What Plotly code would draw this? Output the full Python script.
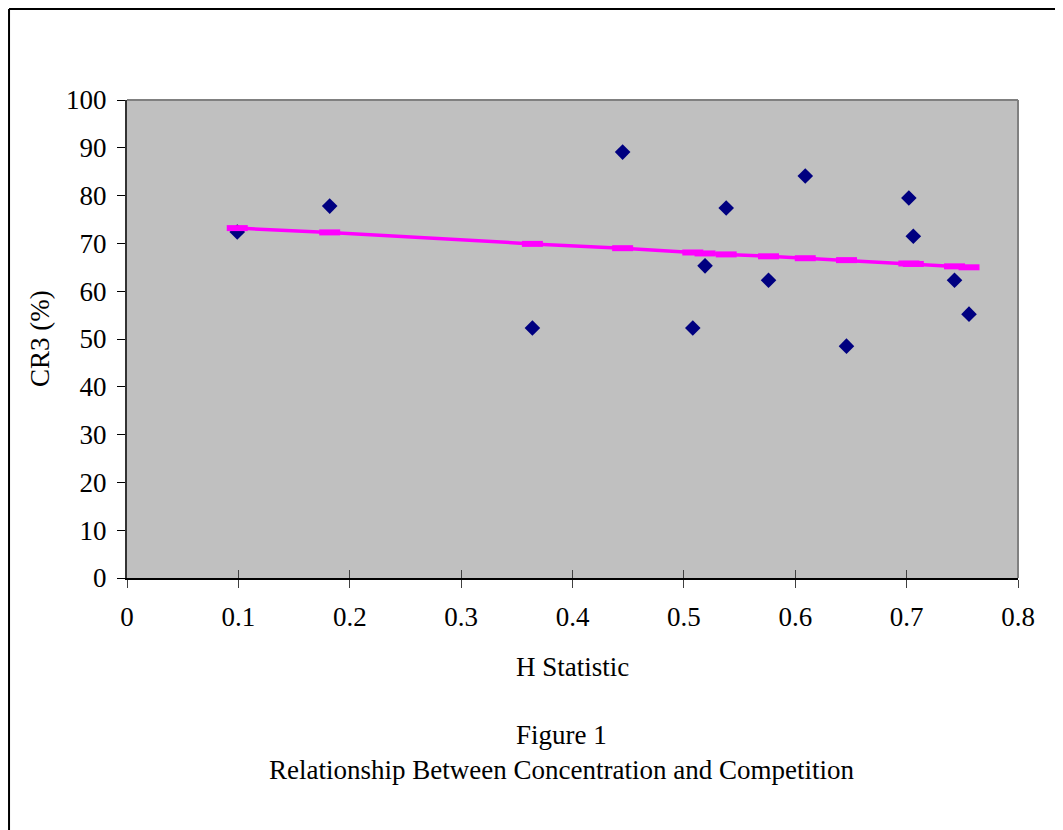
import plotly.graph_objects as go

# Observed data (H statistic vs CR3 %)
h_stat = [0.099, 0.182, 0.364, 0.445, 0.508, 0.519, 0.538, 0.576, 0.609, 0.646, 0.702, 0.706, 0.743, 0.756]
cr3 = [72.4, 77.8, 52.3, 89.1, 52.3, 65.3, 77.4, 62.3, 84.1, 48.5, 79.5, 71.5, 62.3, 55.2]

# Fitted (trend) series as drawn in the chart
fit_x = [0.099, 0.182, 0.364, 0.445, 0.508, 0.519, 0.538, 0.576, 0.609, 0.646, 0.702, 0.706, 0.743, 0.756]
fit_y = [73.2, 72.3, 69.9, 69.0, 68.1, 67.9, 67.7, 67.3, 66.9, 66.5, 65.8, 65.7, 65.2, 65.0]

x_ticks = [0, 0.1, 0.2, 0.3, 0.4, 0.5, 0.6, 0.7, 0.8]
x_tick_labels = ["0", "0.1", "0.2", "0.3", "0.4", "0.5", "0.6", "0.7", "0.8"]
y_ticks = [0, 10, 20, 30, 40, 50, 60, 70, 80, 90, 100]

FONT = "Liberation Serif, Times New Roman, serif"
FS = 27

fig = go.Figure()
fig.add_trace(go.Scatter(
    x=h_stat, y=cr3, mode="markers",
    marker=dict(symbol="diamond", size=12, color="#000080", line=dict(width=0)),
    showlegend=False, cliponaxis=False,
))
fig.add_trace(go.Scatter(
    x=fit_x, y=fit_y, mode="lines+markers",
    line=dict(color="#FF00FF", width=3.5),
    marker=dict(symbol="line-ew", size=15, color="#FF00FF", line=dict(color="#FF00FF", width=6)),
    showlegend=False,
))
# invisible trace for inner x tick marks
fig.add_trace(go.Scatter(x=[0], y=[0], xaxis="x2", mode="markers",
                         marker=dict(opacity=0), showlegend=False, hoverinfo="skip"))

fig.update_layout(
    width=1063, height=830,
    margin=dict(l=119, r=53, t=92, b=260),
    paper_bgcolor="white",
    plot_bgcolor="#C0C0C0",
    font=dict(family=FONT, size=FS, color="black"),
    xaxis=dict(
        range=[0, 0.8], tickvals=x_ticks, ticktext=x_tick_labels,
        showgrid=False, zeroline=False,
        showline=True, linecolor="black", linewidth=2,
        ticks="outside", ticklen=8, tickwidth=1, tickcolor="#404040",
        ticklabelstandoff=6,
        tickfont=dict(family=FONT, size=FS),
    ),
    xaxis2=dict(
        range=[0, 0.8], tickvals=x_ticks, overlaying="x", anchor="y",
        showgrid=False, zeroline=False, showline=False,
        ticks="inside", ticklen=8, tickwidth=1, tickcolor="#404040",
        showticklabels=False, side="bottom",
    ),
    yaxis=dict(
        range=[0, 100], tickvals=y_ticks,
        showgrid=False, zeroline=False,
        showline=True, linecolor="#333333", linewidth=2,
        ticks="outside", ticklen=8, tickwidth=1, tickcolor="black",
        ticklabelstandoff=5,
        tickfont=dict(family=FONT, size=FS),
    ),
    shapes=[
        # plot area top and right borders (gray)
        dict(type="line", xref="paper", yref="paper", x0=0, x1=1, y0=1, y1=1,
             line=dict(color="#808080", width=2)),
        dict(type="line", xref="paper", yref="paper", x0=1, x1=1, y0=0, y1=1,
             line=dict(color="#808080", width=2)),
        # outer frame (left and top)
        dict(type="line", xref="paper", yref="paper", x0=-0.1324, x1=-0.1324, y0=1.1904, y1=-0.55,
             line=dict(color="black", width=2)),
        dict(type="line", xref="paper", yref="paper", x0=-0.1324, x1=1.07, y0=1.1904, y1=1.1904,
             line=dict(color="black", width=2)),
    ],
    annotations=[
        dict(text="CR3 (%)", xref="paper", yref="paper", x=-0.0976, y=0.5,
             xanchor="center", yanchor="middle", textangle=-90, showarrow=False,
             font=dict(family=FONT, size=FS)),
        dict(text="H Statistic", xref="paper", yref="paper", x=0.5, y=-0.1862,
             xanchor="center", yanchor="middle", showarrow=False,
             font=dict(family=FONT, size=FS)),
        dict(text="Figure 1", xref="paper", yref="paper", x=0.488, y=-0.3285,
             xanchor="center", yanchor="middle", showarrow=False,
             font=dict(family=FONT, size=FS)),
        dict(text="Relationship Between Concentration and Competition", xref="paper", yref="paper",
             x=0.488, y=-0.4017, xanchor="center", yanchor="middle", showarrow=False,
             font=dict(family=FONT, size=FS)),
    ],
)

fig.write_html("out.html")
